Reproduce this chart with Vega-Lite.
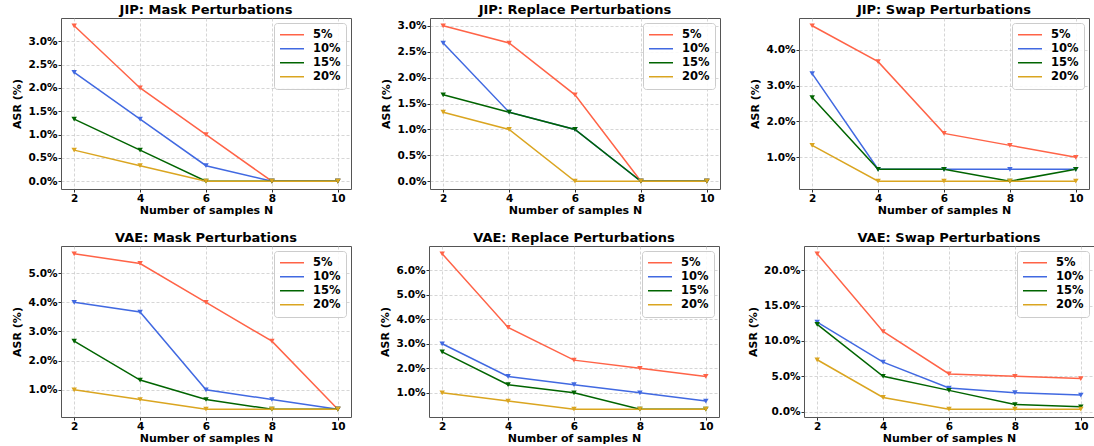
{
  "$schema": "https://vega.github.io/schema/vega-lite/v6.json",
  "padding": {"left": 11, "top": 3, "right": 2, "bottom": 0},
  "datasets": {
    "d": [
      {"m":"JIP","p":"Mask","r":"5%","n":2,"v":3.333},{"m":"JIP","p":"Mask","r":"5%","n":4,"v":2.0},{"m":"JIP","p":"Mask","r":"5%","n":6,"v":1.0},{"m":"JIP","p":"Mask","r":"5%","n":8,"v":0},{"m":"JIP","p":"Mask","r":"5%","n":10,"v":0},
      {"m":"JIP","p":"Mask","r":"10%","n":2,"v":2.333},{"m":"JIP","p":"Mask","r":"10%","n":4,"v":1.333},{"m":"JIP","p":"Mask","r":"10%","n":6,"v":0.333},{"m":"JIP","p":"Mask","r":"10%","n":8,"v":0},{"m":"JIP","p":"Mask","r":"10%","n":10,"v":0},
      {"m":"JIP","p":"Mask","r":"15%","n":2,"v":1.333},{"m":"JIP","p":"Mask","r":"15%","n":4,"v":0.667},{"m":"JIP","p":"Mask","r":"15%","n":6,"v":0},{"m":"JIP","p":"Mask","r":"15%","n":8,"v":0},{"m":"JIP","p":"Mask","r":"15%","n":10,"v":0},
      {"m":"JIP","p":"Mask","r":"20%","n":2,"v":0.667},{"m":"JIP","p":"Mask","r":"20%","n":4,"v":0.333},{"m":"JIP","p":"Mask","r":"20%","n":6,"v":0},{"m":"JIP","p":"Mask","r":"20%","n":8,"v":0},{"m":"JIP","p":"Mask","r":"20%","n":10,"v":0},

      {"m":"JIP","p":"Replace","r":"5%","n":2,"v":3.0},{"m":"JIP","p":"Replace","r":"5%","n":4,"v":2.667},{"m":"JIP","p":"Replace","r":"5%","n":6,"v":1.667},{"m":"JIP","p":"Replace","r":"5%","n":8,"v":0},{"m":"JIP","p":"Replace","r":"5%","n":10,"v":0},
      {"m":"JIP","p":"Replace","r":"10%","n":2,"v":2.667},{"m":"JIP","p":"Replace","r":"10%","n":4,"v":1.333},{"m":"JIP","p":"Replace","r":"10%","n":6,"v":1.0},{"m":"JIP","p":"Replace","r":"10%","n":8,"v":0},{"m":"JIP","p":"Replace","r":"10%","n":10,"v":0},
      {"m":"JIP","p":"Replace","r":"15%","n":2,"v":1.667},{"m":"JIP","p":"Replace","r":"15%","n":4,"v":1.333},{"m":"JIP","p":"Replace","r":"15%","n":6,"v":1.0},{"m":"JIP","p":"Replace","r":"15%","n":8,"v":0},{"m":"JIP","p":"Replace","r":"15%","n":10,"v":0},
      {"m":"JIP","p":"Replace","r":"20%","n":2,"v":1.333},{"m":"JIP","p":"Replace","r":"20%","n":4,"v":1.0},{"m":"JIP","p":"Replace","r":"20%","n":6,"v":0},{"m":"JIP","p":"Replace","r":"20%","n":8,"v":0},{"m":"JIP","p":"Replace","r":"20%","n":10,"v":0},

      {"m":"JIP","p":"Swap","r":"5%","n":2,"v":4.667},{"m":"JIP","p":"Swap","r":"5%","n":4,"v":3.667},{"m":"JIP","p":"Swap","r":"5%","n":6,"v":1.667},{"m":"JIP","p":"Swap","r":"5%","n":8,"v":1.333},{"m":"JIP","p":"Swap","r":"5%","n":10,"v":1.0},
      {"m":"JIP","p":"Swap","r":"10%","n":2,"v":3.333},{"m":"JIP","p":"Swap","r":"10%","n":4,"v":0.667},{"m":"JIP","p":"Swap","r":"10%","n":6,"v":0.667},{"m":"JIP","p":"Swap","r":"10%","n":8,"v":0.667},{"m":"JIP","p":"Swap","r":"10%","n":10,"v":0.667},
      {"m":"JIP","p":"Swap","r":"15%","n":2,"v":2.667},{"m":"JIP","p":"Swap","r":"15%","n":4,"v":0.667},{"m":"JIP","p":"Swap","r":"15%","n":6,"v":0.667},{"m":"JIP","p":"Swap","r":"15%","n":8,"v":0.333},{"m":"JIP","p":"Swap","r":"15%","n":10,"v":0.667},
      {"m":"JIP","p":"Swap","r":"20%","n":2,"v":1.333},{"m":"JIP","p":"Swap","r":"20%","n":4,"v":0.333},{"m":"JIP","p":"Swap","r":"20%","n":6,"v":0.333},{"m":"JIP","p":"Swap","r":"20%","n":8,"v":0.333},{"m":"JIP","p":"Swap","r":"20%","n":10,"v":0.333},

      {"m":"VAE","p":"Mask","r":"5%","n":2,"v":5.667},{"m":"VAE","p":"Mask","r":"5%","n":4,"v":5.333},{"m":"VAE","p":"Mask","r":"5%","n":6,"v":4.0},{"m":"VAE","p":"Mask","r":"5%","n":8,"v":2.667},{"m":"VAE","p":"Mask","r":"5%","n":10,"v":0.333},
      {"m":"VAE","p":"Mask","r":"10%","n":2,"v":4.0},{"m":"VAE","p":"Mask","r":"10%","n":4,"v":3.667},{"m":"VAE","p":"Mask","r":"10%","n":6,"v":1.0},{"m":"VAE","p":"Mask","r":"10%","n":8,"v":0.667},{"m":"VAE","p":"Mask","r":"10%","n":10,"v":0.333},
      {"m":"VAE","p":"Mask","r":"15%","n":2,"v":2.667},{"m":"VAE","p":"Mask","r":"15%","n":4,"v":1.333},{"m":"VAE","p":"Mask","r":"15%","n":6,"v":0.667},{"m":"VAE","p":"Mask","r":"15%","n":8,"v":0.333},{"m":"VAE","p":"Mask","r":"15%","n":10,"v":0.333},
      {"m":"VAE","p":"Mask","r":"20%","n":2,"v":1.0},{"m":"VAE","p":"Mask","r":"20%","n":4,"v":0.667},{"m":"VAE","p":"Mask","r":"20%","n":6,"v":0.333},{"m":"VAE","p":"Mask","r":"20%","n":8,"v":0.333},{"m":"VAE","p":"Mask","r":"20%","n":10,"v":0.333},

      {"m":"VAE","p":"Replace","r":"5%","n":2,"v":6.667},{"m":"VAE","p":"Replace","r":"5%","n":4,"v":3.667},{"m":"VAE","p":"Replace","r":"5%","n":6,"v":2.333},{"m":"VAE","p":"Replace","r":"5%","n":8,"v":2.0},{"m":"VAE","p":"Replace","r":"5%","n":10,"v":1.667},
      {"m":"VAE","p":"Replace","r":"10%","n":2,"v":3.0},{"m":"VAE","p":"Replace","r":"10%","n":4,"v":1.667},{"m":"VAE","p":"Replace","r":"10%","n":6,"v":1.333},{"m":"VAE","p":"Replace","r":"10%","n":8,"v":1.0},{"m":"VAE","p":"Replace","r":"10%","n":10,"v":0.667},
      {"m":"VAE","p":"Replace","r":"15%","n":2,"v":2.667},{"m":"VAE","p":"Replace","r":"15%","n":4,"v":1.333},{"m":"VAE","p":"Replace","r":"15%","n":6,"v":1.0},{"m":"VAE","p":"Replace","r":"15%","n":8,"v":0.333},{"m":"VAE","p":"Replace","r":"15%","n":10,"v":0.333},
      {"m":"VAE","p":"Replace","r":"20%","n":2,"v":1.0},{"m":"VAE","p":"Replace","r":"20%","n":4,"v":0.667},{"m":"VAE","p":"Replace","r":"20%","n":6,"v":0.333},{"m":"VAE","p":"Replace","r":"20%","n":8,"v":0.333},{"m":"VAE","p":"Replace","r":"20%","n":10,"v":0.333},

      {"m":"VAE","p":"Swap","r":"5%","n":2,"v":22.333},{"m":"VAE","p":"Swap","r":"5%","n":4,"v":11.333},{"m":"VAE","p":"Swap","r":"5%","n":6,"v":5.333},{"m":"VAE","p":"Swap","r":"5%","n":8,"v":5.0},{"m":"VAE","p":"Swap","r":"5%","n":10,"v":4.667},
      {"m":"VAE","p":"Swap","r":"10%","n":2,"v":12.667},{"m":"VAE","p":"Swap","r":"10%","n":4,"v":7.0},{"m":"VAE","p":"Swap","r":"10%","n":6,"v":3.333},{"m":"VAE","p":"Swap","r":"10%","n":8,"v":2.667},{"m":"VAE","p":"Swap","r":"10%","n":10,"v":2.333},
      {"m":"VAE","p":"Swap","r":"15%","n":2,"v":12.333},{"m":"VAE","p":"Swap","r":"15%","n":4,"v":5.0},{"m":"VAE","p":"Swap","r":"15%","n":6,"v":3.0},{"m":"VAE","p":"Swap","r":"15%","n":8,"v":1.0},{"m":"VAE","p":"Swap","r":"15%","n":10,"v":0.667},
      {"m":"VAE","p":"Swap","r":"20%","n":2,"v":7.333},{"m":"VAE","p":"Swap","r":"20%","n":4,"v":2.0},{"m":"VAE","p":"Swap","r":"20%","n":6,"v":0.333},{"m":"VAE","p":"Swap","r":"20%","n":8,"v":0.333},{"m":"VAE","p":"Swap","r":"20%","n":10,"v":0.333}
    ]
  },
  "vconcat": [
    {
      "hconcat": [
        {
          "title": "JIP: Mask Perturbations", "width": 290, "height": 171,
          "data": {"name": "d"},
          "transform": [{"filter": "datum.m=='JIP' && datum.p=='Mask'"}],
          "mark": {"type": "line", "strokeWidth": 1.5, "point": {"shape": "triangle-down", "filled": true, "size": 30}},
          "encoding": {
            "x": {"field": "n", "type": "quantitative", "scale": {"domain": [1.6, 10.4], "nice": false, "zero": false}, "axis": {"values": [2,4,6,8,10], "title": "Number of samples N"}},
            "y": {"field": "v", "type": "quantitative", "scale": {"domain": [-0.1667, 3.5], "nice": false, "zero": false}, "axis": {"values": [0,0.5,1,1.5,2,2.5,3], "labelExpr": "format(datum.value,'.1f')+'%'", "title": "ASR (%)"}},
            "color": {"field": "r", "type": "nominal", "sort": null, "scale": {"domain": ["5%","10%","15%","20%"], "range": ["#ff6347","#4169e1","#006400","#daa520"]}, "legend": {"title": null}}
          }
        },
        {
          "title": "JIP: Replace Perturbations", "width": 290, "height": 171,
          "data": {"name": "d"},
          "transform": [{"filter": "datum.m=='JIP' && datum.p=='Replace'"}],
          "mark": {"type": "line", "strokeWidth": 1.5, "point": {"shape": "triangle-down", "filled": true, "size": 30}},
          "encoding": {
            "x": {"field": "n", "type": "quantitative", "scale": {"domain": [1.6, 10.4], "nice": false, "zero": false}, "axis": {"values": [2,4,6,8,10], "title": "Number of samples N"}},
            "y": {"field": "v", "type": "quantitative", "scale": {"domain": [-0.15, 3.15], "nice": false, "zero": false}, "axis": {"values": [0,0.5,1,1.5,2,2.5,3], "labelExpr": "format(datum.value,'.1f')+'%'", "title": "ASR (%)"}},
            "color": {"field": "r", "type": "nominal", "sort": null, "scale": {"domain": ["5%","10%","15%","20%"], "range": ["#ff6347","#4169e1","#006400","#daa520"]}, "legend": {"title": null}}
          }
        },
        {
          "title": "JIP: Swap Perturbations", "width": 290, "height": 171,
          "data": {"name": "d"},
          "transform": [{"filter": "datum.m=='JIP' && datum.p=='Swap'"}],
          "mark": {"type": "line", "strokeWidth": 1.5, "point": {"shape": "triangle-down", "filled": true, "size": 30}},
          "encoding": {
            "x": {"field": "n", "type": "quantitative", "scale": {"domain": [1.6, 10.4], "nice": false, "zero": false}, "axis": {"values": [2,4,6,8,10], "title": "Number of samples N"}},
            "y": {"field": "v", "type": "quantitative", "scale": {"domain": [0.1167, 4.883], "nice": false, "zero": false}, "axis": {"values": [1,2,3,4], "labelExpr": "format(datum.value,'.1f')+'%'", "title": "ASR (%)"}},
            "color": {"field": "r", "type": "nominal", "sort": null, "scale": {"domain": ["5%","10%","15%","20%"], "range": ["#ff6347","#4169e1","#006400","#daa520"]}, "legend": {"title": null}}
          }
        }
      ],
      "spacing": 28,
      "resolve": {"scale": {"x": "independent", "y": "independent", "color": "independent"}, "legend": {"color": "independent"}}
    },
    {
      "hconcat": [
        {
          "title": "VAE: Mask Perturbations", "width": 290, "height": 171,
          "data": {"name": "d"},
          "transform": [{"filter": "datum.m=='VAE' && datum.p=='Mask'"}],
          "mark": {"type": "line", "strokeWidth": 1.5, "point": {"shape": "triangle-down", "filled": true, "size": 30}},
          "encoding": {
            "x": {"field": "n", "type": "quantitative", "scale": {"domain": [1.6, 10.4], "nice": false, "zero": false}, "axis": {"values": [2,4,6,8,10], "title": "Number of samples N"}},
            "y": {"field": "v", "type": "quantitative", "scale": {"domain": [0.0667, 5.933], "nice": false, "zero": false}, "axis": {"values": [1,2,3,4,5], "labelExpr": "format(datum.value,'.1f')+'%'", "title": "ASR (%)"}},
            "color": {"field": "r", "type": "nominal", "sort": null, "scale": {"domain": ["5%","10%","15%","20%"], "range": ["#ff6347","#4169e1","#006400","#daa520"]}, "legend": {"title": null}}
          }
        },
        {
          "title": "VAE: Replace Perturbations", "width": 290, "height": 171,
          "data": {"name": "d"},
          "transform": [{"filter": "datum.m=='VAE' && datum.p=='Replace'"}],
          "mark": {"type": "line", "strokeWidth": 1.5, "point": {"shape": "triangle-down", "filled": true, "size": 30}},
          "encoding": {
            "x": {"field": "n", "type": "quantitative", "scale": {"domain": [1.6, 10.4], "nice": false, "zero": false}, "axis": {"values": [2,4,6,8,10], "title": "Number of samples N"}},
            "y": {"field": "v", "type": "quantitative", "scale": {"domain": [0.0167, 6.983], "nice": false, "zero": false}, "axis": {"values": [1,2,3,4,5,6], "labelExpr": "format(datum.value,'.1f')+'%'", "title": "ASR (%)"}},
            "color": {"field": "r", "type": "nominal", "sort": null, "scale": {"domain": ["5%","10%","15%","20%"], "range": ["#ff6347","#4169e1","#006400","#daa520"]}, "legend": {"title": null}}
          }
        },
        {
          "title": "VAE: Swap Perturbations", "width": 290, "height": 171,
          "data": {"name": "d"},
          "transform": [{"filter": "datum.m=='VAE' && datum.p=='Swap'"}],
          "mark": {"type": "line", "strokeWidth": 1.5, "point": {"shape": "triangle-down", "filled": true, "size": 30}},
          "encoding": {
            "x": {"field": "n", "type": "quantitative", "scale": {"domain": [1.6, 10.4], "nice": false, "zero": false}, "axis": {"values": [2,4,6,8,10], "title": "Number of samples N"}},
            "y": {"field": "v", "type": "quantitative", "scale": {"domain": [-0.767, 23.433], "nice": false, "zero": false}, "axis": {"values": [0,5,10,15,20], "labelExpr": "format(datum.value,'.1f')+'%'", "title": "ASR (%)"}},
            "color": {"field": "r", "type": "nominal", "sort": null, "scale": {"domain": ["5%","10%","15%","20%"], "range": ["#ff6347","#4169e1","#006400","#daa520"]}, "legend": {"title": null}}
          }
        }
      ],
      "spacing": 27,
      "resolve": {"scale": {"x": "independent", "y": "independent", "color": "independent"}, "legend": {"color": "independent"}}
    }
  ],
  "spacing": 15,
  "resolve": {"scale": {"x": "independent", "y": "independent", "color": "independent"}, "legend": {"color": "independent"}},
  "config": {
    "font": "DejaVu Sans",
    "background": "white",
    "view": {"stroke": "#555", "strokeWidth": 1},
    "axis": {
      "domain": false, "grid": true, "gridDash": [3, 2], "gridColor": "#c4c4c4", "gridWidth": 0.7,
      "ticks": true, "tickColor": "#333", "tickSize": 3,
      "labelFont": "DejaVu Sans", "labelFontWeight": "bold", "labelFontSize": 10.5, "labelColor": "black", "labelPadding": 1, "labelFlush": false,
      "titleFont": "DejaVu Sans", "titleFontWeight": "bold", "titleFontSize": 11, "titleColor": "black", "titlePadding": 1
    },
    "axisY": {"titlePadding": 5},
    "title": {"font": "DejaVu Sans", "fontSize": 13, "fontWeight": "bold", "color": "black", "offset": 1},
    "legend": {
      "orient": "top-right", "offset": 5, "padding": 5, "strokeColor": "#ccc", "fillColor": "rgba(255,255,255,0.85)", "cornerRadius": 3,
      "symbolType": "stroke", "symbolSize": 576, "symbolStrokeWidth": 1.5, "clipHeight": 13.5,
      "labelFont": "DejaVu Sans", "labelFontWeight": "bold", "labelFontSize": 11.5, "labelColor": "black", "labelOffset": 8, "rowPadding": 0
    }
  }
}
